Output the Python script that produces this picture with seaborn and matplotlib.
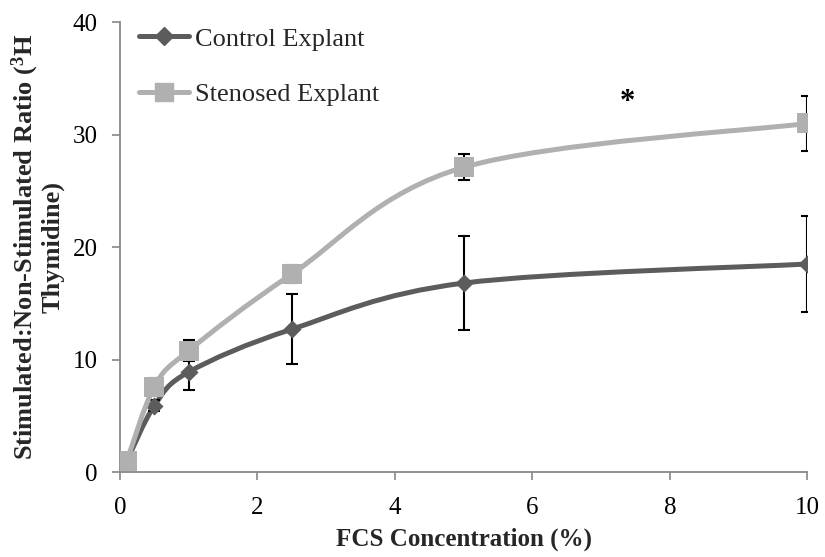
import numpy as np
import matplotlib
matplotlib.use("Agg")
import matplotlib.pyplot as plt
from matplotlib.path import Path
from matplotlib.patches import PathPatch
from matplotlib.lines import Line2D
import seaborn as sns
import pandas as pd

# ---- data ----
fcs = [0.1, 0.5, 1.0, 2.5, 5.0, 10.0]
control = [1.0, 5.9, 8.9, 12.7, 16.8, 18.5]
control_err = [0.3, 0.5, 1.6, 3.1, 4.2, 4.3]
stenosed = [1.0, 7.6, 10.8, 17.6, 27.1, 31.0]
stenosed_err = [0.3, 0.8, 0.9, 0.8, 1.15, 2.45]
series_names = ["Control Explant", "Stenosed Explant"]
x_ticks = [0, 2, 4, 6, 8, 10]
y_ticks = [0, 10, 20, 30, 40]

sns.set_theme(style="white")
plt.rcParams["font.family"] = ["Liberation Serif", "DejaVu Serif"]
plt.rcParams["mathtext.fontset"] = "custom"
plt.rcParams["mathtext.bf"] = "Liberation Serif:bold"
plt.rcParams["mathtext.rm"] = "Liberation Serif"

fig = plt.figure(figsize=(8.25, 5.57), dpi=100)
ax = fig.add_axes([0.1455, 0.1526, 0.833, 0.8074])

c_ctrl = "#5c5c5c"
c_sten = "#b0b0b0"


def smooth_path(xs, ys):
    pts = np.column_stack([xs, ys]).astype(float)
    n = len(pts)
    verts = [tuple(pts[0])]
    codes = [Path.MOVETO]
    for i in range(n - 1):
        p0 = pts[i - 1] if i > 0 else pts[i]
        p1 = pts[i]
        p2 = pts[i + 1]
        p3 = pts[i + 2] if i + 2 < n else pts[i + 1]
        c1 = p1 + (p2 - p0) / 6.0
        c2 = p2 - (p3 - p1) / 6.0
        verts += [tuple(c1), tuple(c2), tuple(p2)]
        codes += [Path.CURVE4] * 3
    return Path(verts, codes)


df = pd.DataFrame({
    "fcs": fcs * 2,
    "value": control + stenosed,
    "series": [series_names[0]] * len(fcs) + [series_names[1]] * len(fcs),
})

lw = 3.6
# control
ax.add_patch(PathPatch(smooth_path(fcs, control), fill=False, edgecolor=c_ctrl,
                       lw=lw, zorder=2, capstyle="round"))
ax.errorbar(fcs, control, yerr=control_err, fmt="none", ecolor="black",
            elinewidth=1.5, capsize=4.5, capthick=1.5, zorder=3)
sns.scatterplot(data=df[df.series == series_names[0]], x="fcs", y="value", ax=ax,
                marker="D", s=85, color=c_ctrl, edgecolor=c_ctrl, linewidth=0,
                zorder=4, legend=False)

# stenosed
ax.add_patch(PathPatch(smooth_path(fcs, stenosed), fill=False, edgecolor=c_sten,
                       lw=lw, zorder=5, capstyle="round"))
ax.errorbar(fcs, stenosed, yerr=stenosed_err, fmt="none", ecolor="black",
            elinewidth=1.5, capsize=4.5, capthick=1.5, zorder=6)
sns.scatterplot(data=df[df.series == series_names[1]], x="fcs", y="value", ax=ax,
                marker="s", s=190, color=c_sten, edgecolor=c_sten, linewidth=0,
                zorder=7, legend=False)

ax.set_xlim(0, 10)
ax.set_ylim(0, 40)
ax.set_xticks(x_ticks)
ax.set_yticks(y_ticks)
ax.set_xticklabels([str(t) for t in x_ticks])
ax.set_yticklabels([str(t) for t in y_ticks])
ax.tick_params(axis="both", labelsize=18, colors="black", length=6, width=1.2,
               direction="out", bottom=True, left=True)
ax.tick_params(axis="x", pad=12)
ax.tick_params(axis="y", pad=10)
ax.tick_params(axis="both", color="#888888")
for side in ["top", "right"]:
    ax.spines[side].set_visible(False)
for side in ["left", "bottom"]:
    ax.spines[side].set_color("#888888")
    ax.spines[side].set_linewidth(1.3)

ax.set_xlabel("FCS Concentration (%)", fontsize=18, fontweight="bold", labelpad=6)
ax.set_ylabel("Stimulated:Non-Stimulated Ratio ($\\mathbf{^3}$H\nThymidine)",
              fontsize=19, fontweight="bold", labelpad=6, linespacing=1.0)

ax.text(7.38, 32.9, "*", fontsize=22, fontweight="bold", ha="center", va="center",
        color="black")

handles = [
    Line2D([0], [0], color=c_ctrl, lw=lw, marker="D", markersize=9,
           markerfacecolor=c_ctrl, markeredgecolor=c_ctrl),
    Line2D([0], [0], color=c_sten, lw=lw, marker="s", markersize=13,
           markerfacecolor=c_sten, markeredgecolor=c_sten),
]
ax.legend(handles, series_names, loc="upper left", bbox_to_anchor=(0.0, 1.03),
          frameon=False, fontsize=19, handlelength=1.9, handletextpad=0.25,
          labelspacing=1.2, borderaxespad=0.3)

fig.savefig("out.png", dpi=100)
